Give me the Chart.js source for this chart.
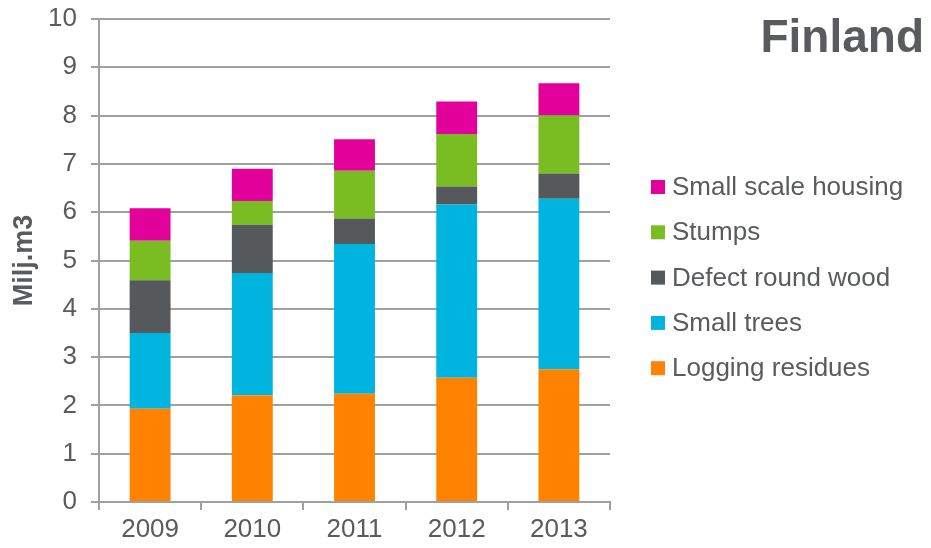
<!DOCTYPE html>
<html lang="en">
<head>
<meta charset="UTF-8" />
<title>Finland</title>
<script src="https://cdn.jsdelivr.net/npm/chart.js"></script>
<style>
* { box-sizing: border-box; }
body { margin: 0; background: #fff; }
.wrap { position: relative; width: 931px; height: 548px; }
</style>
</head>
<body>
<div class="wrap">
    <canvas id="chart" width="931" height="548"></canvas>
</div>
<script>
// data (million m3)
const years = ['2009', '2010', '2011', '2012', '2013'];
const loggingResidues = [1.93, 2.21, 2.24, 2.57, 2.75];
const smallTrees = [1.57, 2.53, 3.10, 3.59, 3.53];
const defectRoundWood = [1.09, 1.00, 0.53, 0.37, 0.52];
const stumps = [0.82, 0.49, 0.99, 1.09, 1.20];
const smallScaleHousing = [0.67, 0.67, 0.65, 0.67, 0.67];
const yTicks = [0, 1, 2, 3, 4, 5, 6, 7, 8, 9, 10];

const FONT = "'Liberation Sans', Arial, sans-serif";
const TEXT = '#595b5e';
const GRID = '#a0a0a0';

// legend + title drawn on the right side
const sidePlugin = {
    id: 'side',
    afterDraw(chart) {
        const c = chart.ctx;
        c.save();
        c.fillStyle = TEXT;
        c.font = 'bold 46px ' + FONT;
        c.textAlign = 'right';
        c.textBaseline = 'alphabetic';
        c.fillText('Finland', 924, 52);

        const items = chart.data.datasets.slice().reverse();
        c.font = '26px ' + FONT;
        c.textAlign = 'left';
        c.textBaseline = 'middle';
        items.forEach((ds, i) => {
            const y = 187 + i * 45.3;
            c.fillStyle = ds.backgroundColor;
            c.fillRect(651, y - 7, 14, 14);
            c.fillStyle = TEXT;
            c.fillText(ds.label, 672, y + 1);
        });
        c.restore();
    }
};

new Chart(document.getElementById('chart'), {
    type: 'bar',
    data: {
        labels: years,
        datasets: [
            { label: 'Logging residues', data: loggingResidues, backgroundColor: '#ff8200' },
            { label: 'Small trees', data: smallTrees, backgroundColor: '#00b4e0' },
            { label: 'Defect round wood', data: defectRoundWood, backgroundColor: '#55595c' },
            { label: 'Stumps', data: stumps, backgroundColor: '#7abd22' },
            { label: 'Small scale housing', data: smallScaleHousing, backgroundColor: '#e2029b' }
        ]
    },
    options: {
        responsive: false,
        animation: false,
        layout: { padding: { top: 19, right: 321, left: 0, bottom: 0 } },
        datasets: { bar: { categoryPercentage: 0.8, barPercentage: 0.5 } },
        plugins: {
            legend: { display: false },
            title: { display: false },
            tooltip: { enabled: false }
        },
        scales: {
            x: {
                stacked: true,
                grid: { drawOnChartArea: false, drawTicks: true, tickLength: 8, color: GRID, lineWidth: 2 },
                border: { color: GRID, width: 2 },
                ticks: { color: TEXT, font: { family: FONT, size: 26 }, padding: 4 },
                afterFit(scale) { scale.height = 46; }
            },
            y: {
                stacked: true,
                min: 0,
                max: 10,
                afterBuildTicks(scale) { scale.ticks = yTicks.map(v => ({ value: v })); },
                grid: { color: GRID, lineWidth: 2, tickLength: 8 },
                border: { color: GRID, width: 2 },
                ticks: { color: TEXT, font: { family: FONT, size: 26 }, padding: 14 },
                title: {
                    display: true,
                    text: 'Milj.m3',
                    color: TEXT,
                    font: { family: FONT, size: 27, weight: 'bold' },
                    padding: { top: 8, bottom: 0 }
                },
                afterFit(scale) {
                    scale.width = 99;
                    scale.paddingTop = 0;
                    scale.paddingBottom = 0;
                }
            }
        }
    },
    plugins: [sidePlugin]
});
</script>
</body>
</html>
